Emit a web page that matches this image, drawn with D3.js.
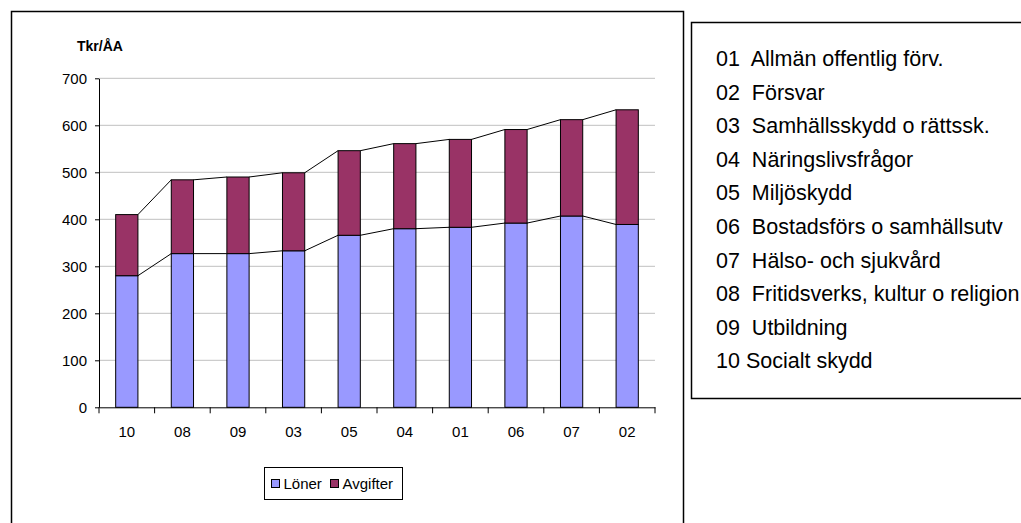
<!DOCTYPE html>
<html>
<head>
<meta charset="utf-8">
<script src="https://cdn.jsdelivr.net/npm/d3@7"></script>
<style>
  html, body { margin: 0; padding: 0; background: #fff; }
  svg { display: block; font-family: Arial, "Liberation Sans", sans-serif; }
</style>
</head>
<body>
<svg id="chart" width="1021" height="523"></svg>
<script>
// Cost per full-time equivalent (Tkr/ÅA), by function code
const categories = ["10", "08", "09", "03", "05", "04", "01", "06", "07", "02"];
const loner     = [280, 327, 327, 333, 366, 380, 383, 392, 407, 389];
const avgifter  = [130, 157, 163, 166, 180, 181, 187, 199, 205, 244];
const yTicks    = [0, 100, 200, 300, 400, 500, 600, 700];
const seriesNames = ["Löner", "Avgifter"];
const seriesColors = ["#9999FF", "#993366"];
const functionLabels = [
  "01\u00a0 Allmän offentlig förv.",
  "02\u00a0 Försvar",
  "03\u00a0 Samhällsskydd o rättssk.",
  "04\u00a0 Näringslivsfrågor",
  "05\u00a0 Miljöskydd",
  "06\u00a0 Bostadsförs o samhällsutv",
  "07\u00a0 Hälso- och sjukvård",
  "08\u00a0 Fritidsverks, kultur o religion",
  "09\u00a0 Utbildning",
  "10 Socialt skydd"
];

const svg = d3.select("#chart");

// Outer chart frame
svg.append("rect")
  .attr("x", 11.5).attr("y", 11.5)
  .attr("width", 672).attr("height", 540)
  .attr("fill", "#fff").attr("stroke", "#000").attr("stroke-width", 1.5);

const plot = { left: 99, right: 655, top: 78.3, bottom: 407.3 };

const x = d3.scaleBand()
  .domain(categories)
  .range([plot.left, plot.right])
  .paddingInner(0.6)
  .paddingOuter(0.3);

const y = d3.scaleLinear()
  .domain([0, 700])
  .range([plot.bottom, plot.top]);

// Gridlines
svg.append("g")
  .selectAll("line")
  .data(yTicks.filter(d => d > 0))
  .join("line")
  .attr("x1", plot.left).attr("x2", plot.right)
  .attr("y1", d => y(d)).attr("y2", d => y(d))
  .attr("stroke", "#c0c0c0").attr("stroke-width", 1);

// Stacked data
const rows = categories.map((c, i) => ({ cat: c, Löner: loner[i], Avgifter: avgifter[i] }));
const stacked = d3.stack().keys(seriesNames)(rows);

const bw = x.bandwidth();

// Series lines joining the tops of neighbouring stack segments
stacked.forEach(layer => {
  const segs = [];
  for (let i = 0; i < layer.length - 1; i++) {
    segs.push({
      x1: x(categories[i]) + bw, y1: y(layer[i][1]),
      x2: x(categories[i + 1]),  y2: y(layer[i + 1][1])
    });
  }
  svg.append("g").selectAll("line").data(segs).join("line")
    .attr("x1", d => d.x1).attr("y1", d => d.y1)
    .attr("x2", d => d.x2).attr("y2", d => d.y2)
    .attr("stroke", "#000").attr("stroke-width", 1);
});

// Bars
svg.append("g")
  .selectAll("g")
  .data(stacked)
  .join("g")
  .attr("fill", (d, i) => seriesColors[i])
  .selectAll("rect")
  .data(d => d)
  .join("rect")
  .attr("x", d => x(d.data.cat))
  .attr("y", d => y(d[1]))
  .attr("width", bw)
  .attr("height", d => y(d[0]) - y(d[1]))
  .attr("stroke", "#000").attr("stroke-width", 1);

// Y axis
const yAxis = svg.append("g")
  .attr("transform", `translate(${plot.left},0)`)
  .call(d3.axisLeft(y).tickValues(yTicks).tickSize(4).tickPadding(8).tickSizeOuter(0));
yAxis.select(".domain").attr("stroke", "#000");
yAxis.selectAll(".tick line").attr("stroke", "#000");
yAxis.selectAll(".tick text")
  .attr("font-size", 15).attr("fill", "#000")
  .attr("font-family", "Arial, 'Liberation Sans', sans-serif");

// X axis: labels centred on bars, tick marks on category boundaries
const xAxis = svg.append("g")
  .attr("transform", `translate(0,${plot.bottom})`)
  .call(d3.axisBottom(x).tickSize(0).tickPadding(19).tickSizeOuter(0));
xAxis.select(".domain").attr("stroke", "#000");
xAxis.selectAll(".tick text")
  .attr("font-size", 15).attr("fill", "#000")
  .attr("font-family", "Arial, 'Liberation Sans', sans-serif");
const step = x.step();
const boundaries = categories.map(c => x(c) - (step - bw) / 2).concat([plot.right]);
xAxis.append("g").selectAll("line").data(boundaries).join("line")
  .attr("x1", d => d).attr("x2", d => d)
  .attr("y1", 0).attr("y2", 6)
  .attr("stroke", "#000");

// Axis title
svg.append("text")
  .attr("x", 77).attr("y", 51)
  .attr("font-size", 14).attr("font-weight", "bold")
  .text("Tkr/ÅA");

// Legend
const legend = svg.append("g");
legend.append("rect")
  .attr("x", 264.5).attr("y", 467.5)
  .attr("width", 138).attr("height", 32)
  .attr("fill", "#fff").attr("stroke", "#000").attr("stroke-width", 1);
const legendX = [271, 330];
seriesNames.forEach((name, i) => {
  legend.append("rect")
    .attr("x", legendX[i] + 0.5).attr("y", 479.5)
    .attr("width", 8).attr("height", 8)
    .attr("fill", seriesColors[i]).attr("stroke", "#000");
  legend.append("text")
    .attr("x", legendX[i] + 12.5).attr("y", 489)
    .attr("font-size", 15)
    .text(name);
});

// Function code key
svg.append("rect")
  .attr("x", 691.5).attr("y", 22.5)
  .attr("width", 400).attr("height", 376)
  .attr("fill", "#fff").attr("stroke", "#000").attr("stroke-width", 1.5);
svg.append("g").selectAll("text").data(functionLabels).join("text")
  .attr("x", 716)
  .attr("y", (d, i) => 66 + i * 33.6)
  .attr("font-size", 21.5)
  .text(d => d);
</script>
</body>
</html>
